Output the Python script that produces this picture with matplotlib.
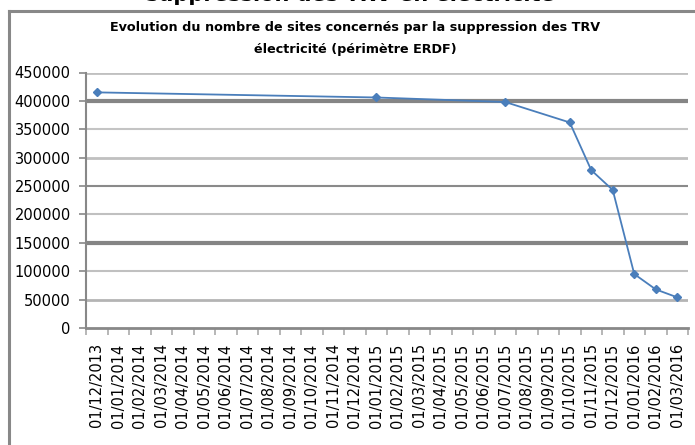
import numpy as np
import matplotlib
matplotlib.use("Agg")
import matplotlib.pyplot as plt
from matplotlib.lines import Line2D

# monthly categories, Dec 2013 -> Mar 2016
dates = ["01/12/2013"]
for yr, months in [(2014, range(1, 13)), (2015, range(1, 13)), (2016, range(1, 4))]:
    for m in months:
        dates.append("01/%02d/%d" % (m, yr))

# nombre de sites (only some months are filled in)
sites = {
    "01/12/2013": 415000,
    "01/01/2015": 406000,
    "01/07/2015": 398000,
    "01/10/2015": 362000,
    "01/11/2015": 278000,
    "01/12/2015": 243000,
    "01/01/2016": 95000,
    "01/02/2016": 68000,
    "01/03/2016": 54000,
}

yticks = np.arange(0, 450001, 50000)

fig = plt.figure(figsize=(6.95, 4.45), dpi=100)
W, H = 695, 445
ax = fig.add_axes([86 / W, 1 - 328 / H, (688 - 86) / W, (328 - 72.5) / H])

xs = [i for i, d in enumerate(dates) if d in sites]
ys = [sites[dates[i]] for i in xs]
ax.plot(xs, ys, color="#4A7EBB", lw=1.3, marker="D", ms=4.5,
        mfc="#4A7EBB", mec="#4A7EBB", zorder=5, clip_on=False)

ax.set_xlim(-0.5, len(dates) - 0.5)
ax.set_ylim(0, 450000)

# horizontal grid, uneven greys
grid_style = {
    50000: ("#b4b4b4", 2.0),
    100000: ("#c0c0c0", 1.5),
    150000: ("#858585", 3.0),
    200000: ("#c0c0c0", 1.5),
    250000: ("#8a8a8a", 1.5),
    300000: ("#c0c0c0", 2.0),
    350000: ("#c4c4c4", 1.5),
    400000: ("#858585", 3.0),
    450000: ("#c0c0c0", 2.0),
}
for v, (c, lw) in grid_style.items():
    ax.axhline(v, color=c, lw=lw, zorder=1)

for s in ["top", "right"]:
    ax.spines[s].set_visible(False)
ax.spines["left"].set_color("#888888")
ax.spines["left"].set_linewidth(1.5)
ax.spines["bottom"].set_color("#888888")
ax.spines["bottom"].set_linewidth(2)

ax.set_yticks(yticks)
ax.set_yticklabels([str(v) for v in yticks], fontsize=10.5)
ax.tick_params(axis="y", length=5, width=1.2, color="#888888", pad=6)

# ticks between categories, labels at centres
ax.set_xticks(np.arange(len(dates) + 1) - 0.5)
ax.set_xticklabels([])
ax.tick_params(axis="x", length=5, width=1.2, color="#aaaaaa")
ax.set_xticks(np.arange(len(dates)), minor=True)
ax.set_xticklabels(dates, minor=True, rotation=90, fontsize=10.5)
ax.tick_params(axis="x", which="minor", length=0, pad=11)

# frame of the chart object
fig.add_artist(Line2D([8.5 / W, 8.5 / W], [0, 1 - 11 / H], color="#888888", lw=2.2))
fig.add_artist(Line2D([8.5 / W, 1], [1 - 11 / H, 1 - 11 / H], color="#888888", lw=2.2))

fig.text(355 / W, 1 - 28 / H, "Evolution du nombre de sites concernés par la suppression des TRV",
         ha="center", va="center", fontsize=9.2, fontweight="bold")
fig.text(355 / W, 1 - 50 / H, "électricité (périmètre ERDF)",
         ha="center", va="center", fontsize=9.2, fontweight="bold")

fig.text(350 / W, 1 - 5 / H, "suppression des TRV en électricité",
         ha="center", va="bottom", fontsize=15, fontweight="bold")

fig.savefig("out.png", dpi=100)
